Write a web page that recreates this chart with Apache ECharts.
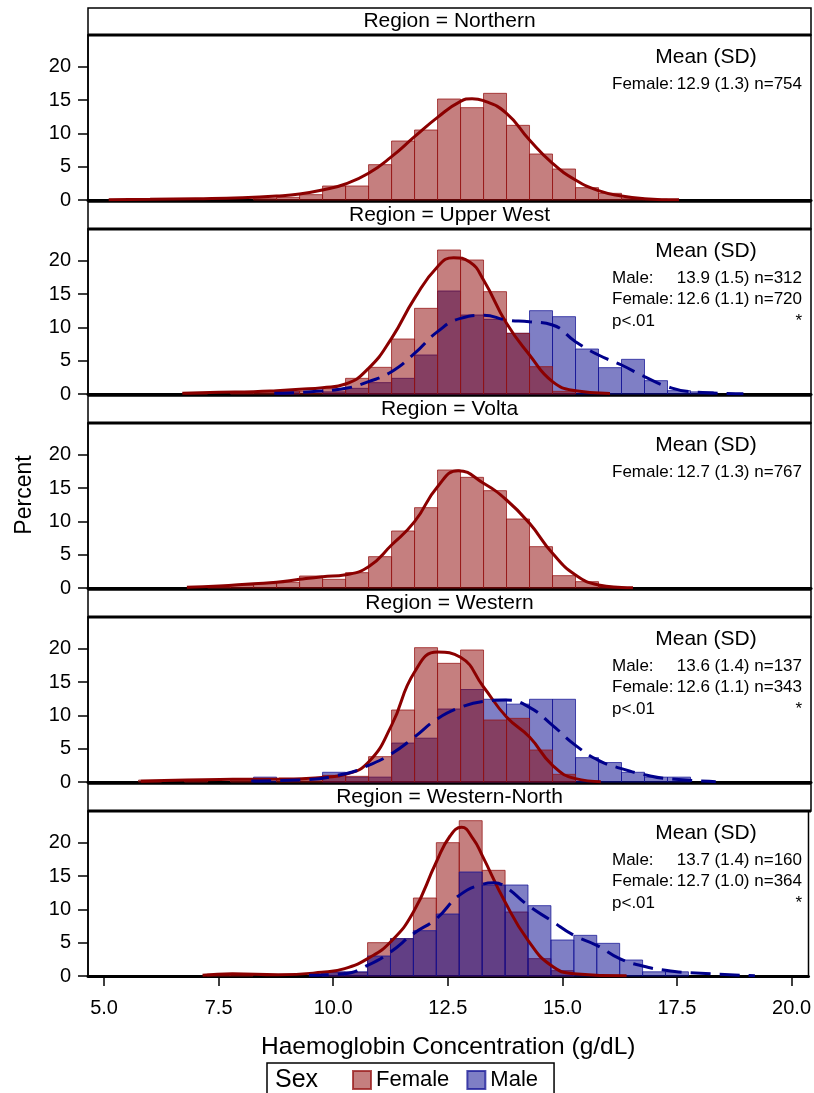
<!DOCTYPE html>
<html>
<head>
<meta charset="utf-8">
<script src="https://cdn.jsdelivr.net/npm/echarts@6/dist/echarts.min.js"></script>
<style>
  html, body { margin: 0; padding: 0; background: #fff; }
  #chart { width: 814px; height: 1093px; }
</style>
</head>
<body>
<div id="chart"></div>
<script>
// ---- data (percent per 0.5 g/dL bin, bin centre first) ----
const regions = ['Northern', 'Upper West', 'Volta', 'Western', 'Western-North'];
const xTicks = [5.0, 7.5, 10.0, 12.5, 15.0, 17.5, 20.0];
const yTicks = [0, 5, 10, 15, 20];

const femaleBins = [
  [[8.5,0.27],[9.0,0.4],[9.5,0.8],[10.0,2.1],[10.5,2.1],[11.0,5.3],[11.5,8.85],[12.0,10.5],[12.5,15.15],[13.0,13.85],[13.5,16.0],[14.0,11.2],[14.5,6.9],[15.0,4.65],[15.5,1.85],[16.0,1.0],[16.5,0.27],[17.0,0.13]],
  [[7.0,0.14],[8.0,0.14],[8.5,0.28],[9.0,0.42],[9.5,0.42],[10.0,0.8],[10.5,2.35],[11.0,4.0],[11.5,8.25],[12.0,12.85],[12.5,21.6],[13.0,20.1],[13.5,15.35],[14.0,9.1],[14.5,4.1],[15.0,0.4]],
  [[7.5,0.13],[8.0,0.4],[8.5,0.65],[9.0,0.85],[9.5,1.8],[10.0,1.3],[10.5,2.3],[11.0,4.7],[11.5,8.55],[12.0,12.05],[12.5,17.7],[13.0,16.6],[13.5,14.6],[14.0,10.35],[14.5,6.2],[15.0,1.85],[15.5,0.95],[16.0,0.2]],
  [[6.0,0.29],[7.0,0.29],[8.0,0.29],[9.0,0.29],[9.5,0.29],[10.0,1.0],[10.5,0.85],[11.0,3.8],[11.5,10.8],[12.0,20.15],[12.5,17.8],[13.0,19.8],[13.5,9.3],[14.0,9.55],[14.5,4.8],[15.0,1.15]],
  [[7.5,0.27],[8.0,0.27],[10.0,0.55],[10.5,0.55],[11.0,5.0],[11.5,5.6],[12.0,11.7],[12.5,20.0],[13.0,23.3],[13.5,15.85],[14.0,9.6],[14.5,2.6],[15.0,0.8]]
];

const maleBins = [
  [],
  [[9.0,0.32],[10.0,0.32],[10.5,0.85],[11.0,1.7],[11.5,2.35],[12.0,5.85],[12.5,15.45],[13.0,11.85],[13.5,11.2],[14.0,9.1],[14.5,12.5],[15.0,11.6],[15.5,6.75],[16.0,3.95],[16.5,5.2],[17.0,2.0],[17.5,0.5],[18.0,0.32]],
  [],
  [[8.5,0.73],[10.0,1.46],[10.5,0.73],[11.0,0.73],[11.5,5.84],[12.0,6.57],[12.5,10.95],[13.0,13.87],[13.5,12.41],[14.0,11.68],[14.5,12.41],[15.0,12.41],[15.5,3.65],[16.0,2.92],[16.5,1.46],[17.0,0.73],[17.5,0.73]],
  [[10.0,0.63],[10.5,0.63],[11.0,3.0],[11.5,5.6],[12.0,6.8],[12.5,9.3],[13.0,15.6],[13.5,13.65],[14.0,13.65],[14.5,10.55],[15.0,5.4],[15.5,6.1],[16.0,4.9],[16.5,2.4],[17.0,0.63],[17.5,0.63]]
];

// kernel density curves
const femaleCurve = [
  [[5.1,0.05],[6.0,0.1],[7.0,0.2],[8.0,0.35],[8.75,0.6],[9.25,0.9],[9.75,1.5],[10.25,2.4],[10.75,4.0],[11.25,6.5],[11.75,9.5],[12.25,12.4],[12.75,14.8],[13.0,15.2],[13.25,14.9],[13.75,13.0],[14.25,9.0],[14.75,5.5],[15.25,3.0],[15.75,1.4],[16.25,0.6],[16.75,0.2],[17.5,0.02]],
  [[6.7,0.1],[7.5,0.25],[8.25,0.35],[8.75,0.5],[9.25,0.7],[9.75,0.95],[10.25,1.5],[10.75,3.85],[11.25,8.35],[11.75,14.35],[12.25,19.1],[12.6,20.45],[12.95,19.8],[13.25,17.1],[13.75,10.6],[14.25,5.85],[14.75,1.85],[15.25,0.5],[16.0,0.08]],
  [[6.8,0.1],[7.5,0.3],[8.25,0.65],[8.75,0.85],[9.25,1.3],[9.75,1.7],[10.25,2.0],[10.75,3.2],[11.25,6.45],[11.75,9.95],[12.25,15.2],[12.7,17.6],[13.25,15.7],[13.75,13.2],[14.25,9.7],[14.75,5.2],[15.25,1.95],[15.75,0.45],[16.25,0.08],[16.5,0.02]],
  [[5.8,0.1],[6.8,0.3],[7.8,0.4],[8.8,0.45],[9.3,0.5],[9.8,0.7],[10.25,1.15],[10.75,3.0],[11.25,8.5],[11.75,16.5],[12.25,19.5],[12.75,18.7],[13.25,14.25],[13.75,9.75],[14.25,6.75],[14.75,2.5],[15.25,0.5],[15.8,0.05]],
  [[7.15,0.1],[7.8,0.35],[8.8,0.2],[9.75,0.55],[10.25,1.1],[10.75,2.6],[11.25,5.1],[11.75,9.6],[12.25,17.1],[12.55,21.0],[12.8,22.3],[13.05,20.6],[13.25,18.1],[13.75,11.1],[14.25,5.35],[14.75,1.6],[15.25,0.35],[16.4,0.02]]
];

const maleCurve = [
  [],
  [[8.7,0.1],[9.5,0.35],[10.25,0.85],[10.75,1.85],[11.25,3.35],[11.75,6.1],[12.25,9.35],[12.75,11.35],[13.25,11.8],[13.75,11.1],[14.25,10.85],[14.75,10.35],[15.25,7.85],[15.75,5.85],[16.25,4.35],[16.75,2.6],[17.25,1.1],[17.75,0.35],[18.9,0.05]],
  [],
  [[8.2,0.15],[9.25,0.3],[10.25,1.25],[10.75,2.5],[11.25,4.25],[11.75,6.75],[12.25,9.5],[12.75,11.2],[13.25,12.1],[13.75,12.3],[14.25,11.2],[14.75,8.5],[15.25,5.5],[15.75,3.25],[16.25,2.0],[16.75,1.1],[17.25,0.5],[18.3,0.05]],
  [[9.47,0.1],[10.25,0.35],[10.75,1.6],[11.25,3.6],[11.75,6.35],[12.25,8.6],[12.75,12.1],[13.25,13.75],[13.5,14.0],[13.75,13.4],[14.25,10.6],[14.75,8.35],[15.25,6.1],[15.75,4.6],[16.25,2.6],[16.75,1.5],[17.25,0.85],[17.75,0.5],[19.2,0.05]]
];

// inset text per panel: [label, value]
const statLines = [
  [['Female:', '12.9 (1.3) n=754']],
  [['Male:', '13.9 (1.5) n=312'], ['Female:', '12.6 (1.1) n=720'], ['p<.01', '*']],
  [['Female:', '12.7 (1.3) n=767']],
  [['Male:', '13.6 (1.4) n=137'], ['Female:', '12.6 (1.1) n=343'], ['p<.01', '*']],
  [['Male:', '13.7 (1.4) n=160'], ['Female:', '12.7 (1.0) n=364'], ['p<.01', '*']]
];
// which sex is drawn on top in the overlap
const maleOnTop = [false, false, false, false, true];

// ---- layout ----
const FONT = '"Liberation Sans", Arial, sans-serif';
const LEFT = 88, RIGHT = 811;
const PLOT_H = 165, HEAD_H = 27, STEP = 194, FIRST_BASE = 200;
const BIN_HALF = 0.25;

const RED_FILL = 'rgba(140, 0, 0, 0.5)', RED_EDGE = 'rgba(150, 20, 20, 0.75)';
const BLUE_FILL = 'rgba(0, 0, 140, 0.5)', BLUE_EDGE = 'rgba(20, 20, 150, 0.75)';

function barRenderer(fill, edge) {
  return function (params, api) {
    const x = api.value(0), y = api.value(1);
    const p0 = api.coord([x - BIN_HALF, y]);
    const p1 = api.coord([x + BIN_HALF, 0]);
    return {
      type: 'rect',
      shape: { x: p0[0], y: p0[1], width: p1[0] - p0[0], height: p1[1] - p0[1] },
      style: { fill: fill, stroke: edge, lineWidth: 1 }
    };
  };
}

const grids = [], xAxes = [], yAxes = [], series = [], graphics = [];

regions.forEach(function (name, i) {
  const base = FIRST_BASE + STEP * i;
  const top = base - PLOT_H;
  const last = i === regions.length - 1;

  grids.push({
    left: LEFT, width: RIGHT - LEFT, top: top, height: PLOT_H,
    show: true, borderColor: '#000', borderWidth: 1.5, backgroundColor: 'transparent'
  });

  xAxes.push({
    gridIndex: i, type: 'value', min: 4.65, max: 20.37,
    axisLine: { show: true, onZero: false, lineStyle: { color: '#000', width: 3 } },
    axisTick: { show: last, customValues: xTicks, length: 10, lineStyle: { color: '#000', width: 1.5 } },
    axisLabel: {
      show: last, customValues: xTicks, margin: 22, color: '#000',
      fontSize: 20, fontFamily: FONT,
      formatter: function (v) { return v.toFixed(1); }
    },
    splitLine: { show: false },
    name: last ? 'Haemoglobin Concentration (g/dL)' : '',
    nameLocation: 'middle', nameGap: 59,
    nameTextStyle: { fontSize: 24.5, fontFamily: FONT, color: '#000' }
  });

  yAxes.push({
    gridIndex: i, type: 'value', min: 0, max: 24.75,
    axisLine: { show: true, lineStyle: { color: '#000', width: 1.5 } },
    axisTick: { show: true, customValues: yTicks, length: 10, lineStyle: { color: '#000', width: 1.5 } },
    axisLabel: { customValues: yTicks, margin: 17, color: '#000', fontSize: 20, fontFamily: FONT },
    splitLine: { show: false }
  });

  const fem = {
    name: 'Female', type: 'custom', xAxisIndex: i, yAxisIndex: i,
    renderItem: barRenderer(RED_FILL, RED_EDGE),
    itemStyle: { color: RED_FILL, borderColor: RED_EDGE, borderWidth: 1 },
    encode: { x: 0, y: 1 }, data: femaleBins[i], silent: true
  };
  const mal = {
    name: 'Male', type: 'custom', xAxisIndex: i, yAxisIndex: i,
    renderItem: barRenderer(BLUE_FILL, BLUE_EDGE),
    itemStyle: { color: BLUE_FILL, borderColor: BLUE_EDGE, borderWidth: 1 },
    encode: { x: 0, y: 1 }, data: maleBins[i], silent: true
  };
  if (maleOnTop[i]) series.push(fem, mal); else series.push(mal, fem);

  series.push({
    name: 'Female density', type: 'line', xAxisIndex: i, yAxisIndex: i,
    data: femaleCurve[i], showSymbol: false, smooth: 0.5,
    lineStyle: { color: '#8B0000', width: 3 }, silent: true, z: 5
  });
  if (maleCurve[i].length) {
    series.push({
      name: 'Male density', type: 'line', xAxisIndex: i, yAxisIndex: i,
      data: maleCurve[i], showSymbol: false, smooth: 0.5,
      lineStyle: { color: '#00008B', width: 3, type: [20, 9] }, silent: true, z: 5
    });
  }

  // header strip
  graphics.push({
    type: 'rect', shape: { x: LEFT, y: top - HEAD_H, width: RIGHT - LEFT, height: HEAD_H },
    style: { fill: '#fff', stroke: '#000', lineWidth: 1.5 }
  });
  graphics.push({
    type: 'line', shape: { x1: LEFT, y1: top, x2: RIGHT, y2: top },
    style: { stroke: '#000', lineWidth: 3 }
  });
  graphics.push({
    type: 'text', x: (LEFT + RIGHT) / 2, y: top - HEAD_H / 2,
    style: { text: 'Region = ' + name, fontSize: 21, fontFamily: FONT, fill: '#000', align: 'center', verticalAlign: 'middle' }
  });

  // inset statistics
  graphics.push({
    type: 'text', x: 706, y: top + 22,
    style: { text: 'Mean (SD)', fontSize: 21, fontFamily: FONT, fill: '#000', align: 'center', verticalAlign: 'middle' }
  });
  statLines[i].forEach(function (ln, k) {
    const y = top + 49 + k * 21.5;
    graphics.push({
      type: 'text', x: 612, y: y,
      style: { text: ln[0], fontSize: 17, fontFamily: FONT, fill: '#000', align: 'left', verticalAlign: 'middle' }
    });
    graphics.push({
      type: 'text', x: 802, y: y,
      style: { text: ln[1], fontSize: 17, fontFamily: FONT, fill: '#000', align: 'right', verticalAlign: 'middle' }
    });
  });
});

// y axis title and legend caption
graphics.push({
  type: 'text', x: 25, y: 495, rotation: Math.PI / 2,
  style: { text: 'Percent', fontSize: 23, fontFamily: FONT, fill: '#000', align: 'center', verticalAlign: 'middle' }
});
graphics.push({
  type: 'text', x: 275, y: 1080,
  style: { text: 'Sex', fontSize: 25, fontFamily: FONT, fill: '#000', align: 'left', verticalAlign: 'middle' }
});

const chart = echarts.init(document.getElementById('chart'));
chart.setOption({
  animation: false,
  backgroundColor: '#fff',
  grid: grids,
  xAxis: xAxes,
  yAxis: yAxes,
  legend: {
    left: 267, top: 1063, orient: 'horizontal',
    padding: [6, 16, 6, 85], itemGap: 17, itemWidth: 18, itemHeight: 18,
    borderColor: '#000', borderWidth: 1.5, selectedMode: false,
    textStyle: { fontSize: 22, fontFamily: FONT, color: '#000' },
    data: [{ name: 'Female', icon: 'rect' }, { name: 'Male', icon: 'rect' }]
  },
  graphic: graphics,
  series: series
});
</script>
</body>
</html>
